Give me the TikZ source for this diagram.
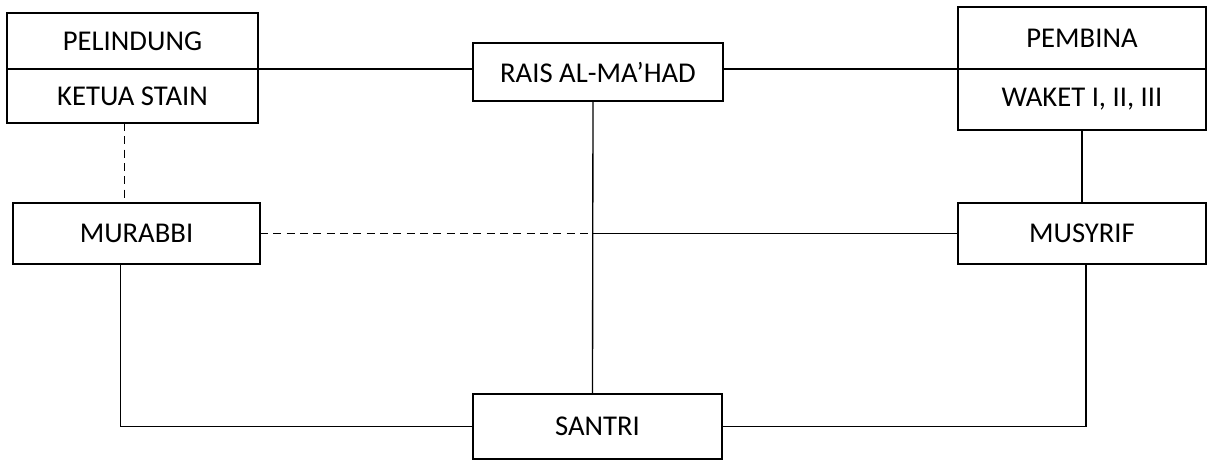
\documentclass[tikz,border=0pt]{standalone}
\usepackage{fontspec}
\setmainfont{Carlito}
\begin{document}
\begin{tikzpicture}[x=0.75pt,y=-0.75pt,
	box/.style={draw=black, line width=1pt, inner sep=0pt, outer sep=0pt, minimum width=186pt, font=\fontsize{21.5}{24}\selectfont},
	link/.style={black, line width=1pt},
	dashlink/.style={black, line width=1pt, dash pattern=on 6pt off 4pt}]
	\useasboundingbox (0,0) rectangle (1207,460);

	\node[box, minimum width=188.25pt, minimum height=42pt] (pelindung) at (132.5,41) {PELINDUNG};
	\node[box, minimum width=188.25pt, minimum height=40.5pt] (ketua) at (132.5,96) {KETUA STAIN};
	\node[box, minimum width=187.5pt, minimum height=43.5pt] (rais) at (598,72) {RAIS AL-MA’HAD};
	\node[box, minimum height=46.5pt] (pembina) at (1082,38) {PEMBINA};
	\node[box, minimum height=45.75pt] (waket) at (1082,99.5) {WAKET I, II, III};
	\node[box, minimum width=185.25pt, minimum height=45.75pt] (murabbi) at (136.5,233.5) {MURABBI};
	\node[box, minimum height=45.75pt] (musyrif) at (1082,233.5) {MUSYRIF};
	\node[box, minimum width=186.75pt, minimum height=48.75pt] (santri) at (597.5,426.5) {SANTRI};

	\coordinate (cross) at ([xshift=-3.75pt]rais.south |- murabbi.east);

	\draw[link] (ketua.north east) -- (ketua.north east -| rais.west);
	\draw[link] (rais.east |- waket.north west) -- (waket.north west);
	\draw[dashlink] ([xshift=-6pt]ketua.south) -- ([xshift=-9pt]murabbi.north);
	\draw[link] ([xshift=-3.75pt]rais.south) -- ([xshift=-3.75pt]santri.north);
	\draw[dashlink] (murabbi.east) -- (cross);
	\draw[link] (cross) -- (musyrif.west);
	\draw[link] (waket.south) -- (musyrif.north);
	\draw[link] ([xshift=-12pt]murabbi.south) |- (santri.west);
	\draw[link] (santri.east) -| ([xshift=3pt]musyrif.south);
\end{tikzpicture}
\end{document}
